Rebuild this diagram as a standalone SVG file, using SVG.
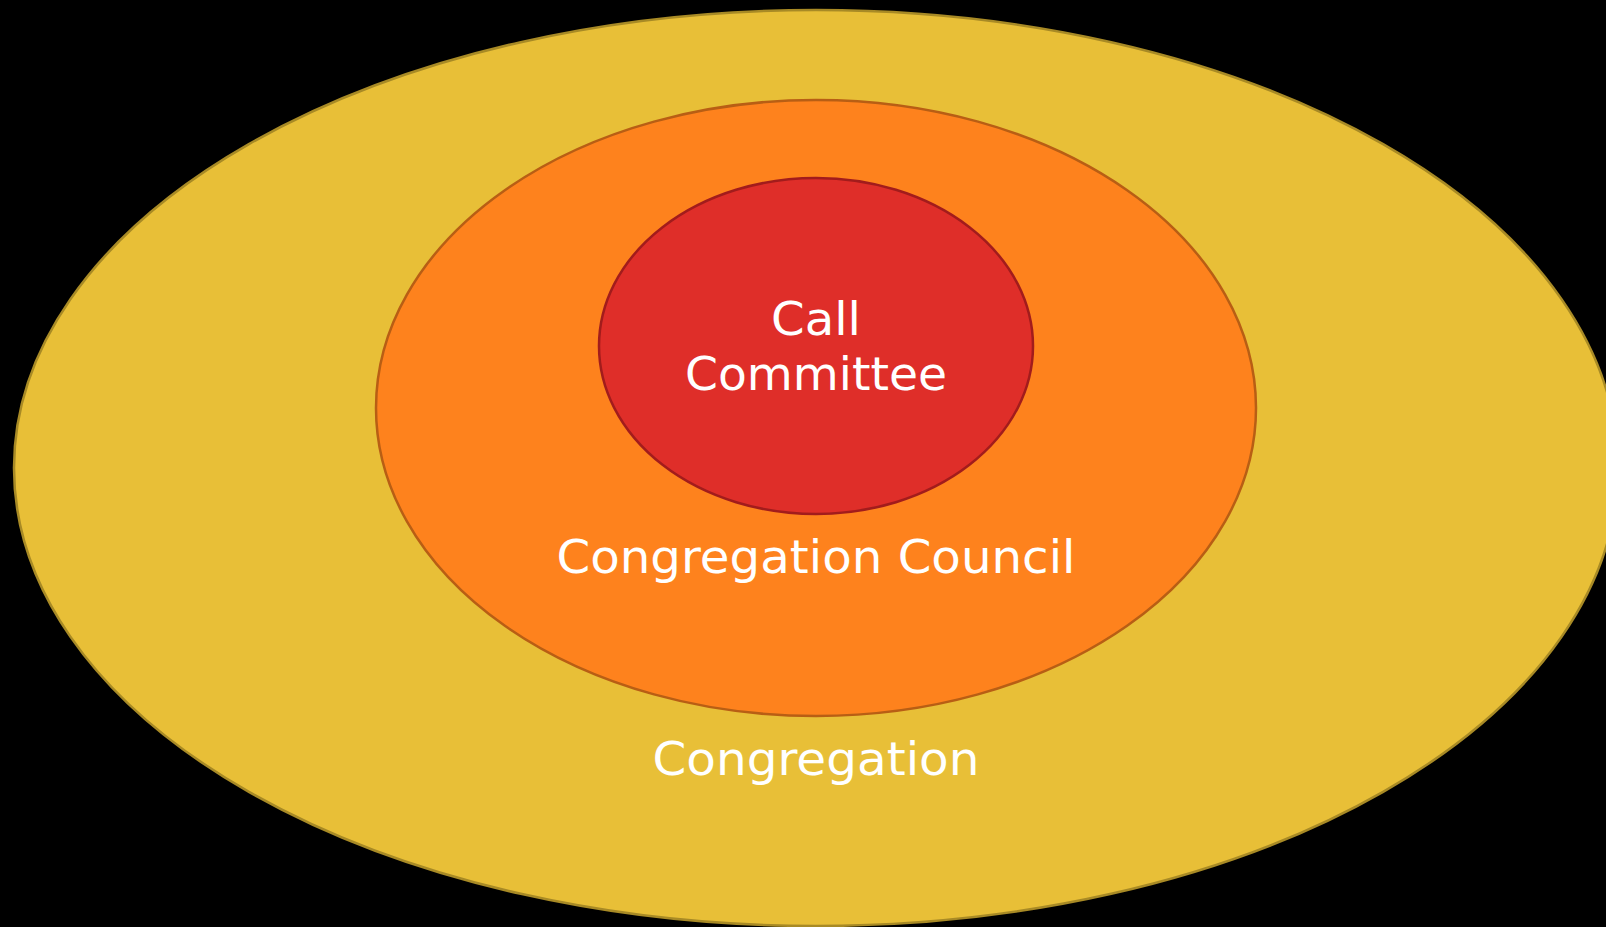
<svg xmlns="http://www.w3.org/2000/svg" width="1606" height="927" viewBox="0 0 1606 927">
<style>
.lbl{font-family:"DejaVu Sans","Liberation Sans",sans-serif;font-size:46px;fill:#ffffff;text-anchor:middle}
</style>
<rect width="1606" height="927" fill="#000000"/>
<g id="congregation">
<ellipse cx="816" cy="468" rx="802" ry="458" fill="#E8BF37" stroke="#A88A25" stroke-width="2.5"/>
<text class="lbl" x="816" y="775" textLength="327" lengthAdjust="spacingAndGlyphs">Congregation</text>
</g>
<g id="council">
<ellipse cx="816" cy="408" rx="440" ry="308" fill="#FE821D" stroke="#B85E14" stroke-width="2.5"/>
<text class="lbl" x="816" y="573" textLength="519" lengthAdjust="spacingAndGlyphs">Congregation Council</text>
</g>
<g id="committee">
<ellipse cx="816" cy="346" rx="217" ry="168" fill="#DF2E29" stroke="#A21C1C" stroke-width="2.5"/>
<text class="lbl" x="816" y="335" textLength="90" lengthAdjust="spacingAndGlyphs">Call</text>
<text class="lbl" x="816" y="390" textLength="262" lengthAdjust="spacingAndGlyphs">Committee</text>
</g>
<g id="connectors"></g>
</svg>
